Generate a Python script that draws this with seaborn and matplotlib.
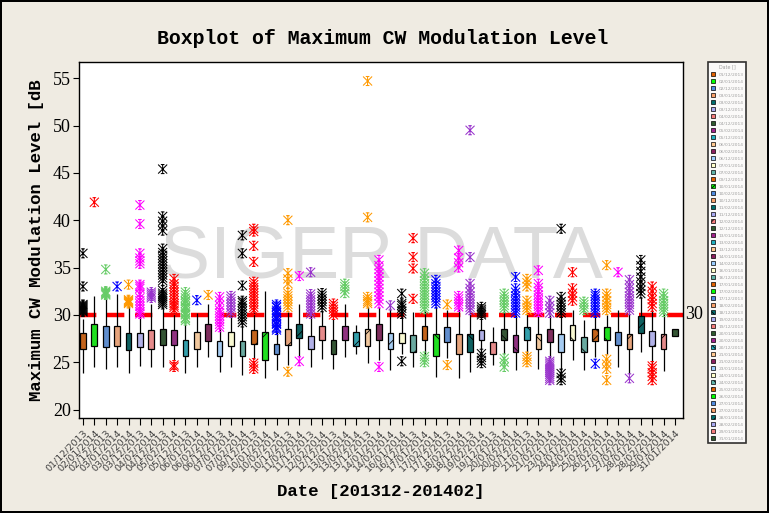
import numpy as np
import pandas as pd
import matplotlib
matplotlib.use("Agg")
import matplotlib.pyplot as plt
import seaborn as sns
from matplotlib.path import Path
from matplotlib.patches import Patch

dates = ["01/12/2013", "02/01/2014", "02/12/2013", "03/01/2014", "03/02/2014", "03/12/2013",
         "04/02/2014", "04/12/2013", "05/02/2014", "05/12/2013", "06/01/2014", "06/02/2014",
         "06/12/2013", "07/01/2014", "07/02/2014", "09/12/2013", "10/01/2014", "10/02/2014",
         "10/12/2013", "11/02/2014", "11/12/2013", "12/02/2014", "12/12/2013", "13/01/2014",
         "13/02/2014", "13/12/2013", "14/01/2014", "14/02/2014", "16/01/2014", "16/12/2013",
         "17/01/2014", "17/02/2014", "17/12/2013", "18/02/2014", "18/12/2013", "19/02/2014",
         "19/12/2013", "20/01/2014", "20/02/2014", "20/12/2013", "21/01/2014", "21/02/2014",
         "23/01/2014", "24/01/2014", "24/02/2014", "25/02/2014", "26/02/2014", "27/01/2014",
         "27/02/2014", "28/01/2014", "28/02/2014", "29/01/2014", "31/01/2014"]

# box statistics (dB)
w_low = [23.9, 24.5, 24.3, 24.5, 23.9, 24.65, 24.5, 24.5, 25.2, 23.9, 24.5, 25.5, 24.0, 24.5,
         23.6, 25.3, 23.3, 24.2, 24.7, 25.5, 24.5, 25.35, 24.3, 25.6, 25.9, 24.9, 25.2, 24.15,
         25.9, 24.5, 25.7, 23.45, 25.4, 23.3, 24.0, 26.1, 24.7, 25.9, 24.15, 25.7, 24.3, 25.4,
         24.0, 25.2, 24.15, 25.6, 25.9, 24.5, 23.8, 26.1, 24.7, 24.1, 27.8]
q1 = [26.35, 26.75, 26.6, 26.75, 26.3, 26.6, 26.45, 26.85, 26.85, 25.7, 26.45, 27.25, 25.7, 26.75,
      25.7, 26.95, 25.2, 25.9, 26.85, 27.6, 26.35, 27.3, 25.9, 27.3, 26.75, 26.75, 27.3, 26.45,
      27.0, 26.1, 27.4, 25.7, 27.15, 25.9, 26.1, 27.4, 25.9, 27.4, 26.1, 27.4, 26.4, 27.15,
      26.1, 27.3, 26.1, 27.25, 27.4, 26.8, 26.35, 28.1, 26.7, 26.35, 27.8]
med = [27.25, 27.8, 27.75, 27.85, 27.2, 27.25, 27.3, 27.85, 27.6, 26.5, 27.6, 28.1, 26.6, 27.6,
       26.2, 28.1, 26.9, 26.45, 27.85, 28.3, 27.0, 28.2, 26.6, 28.2, 27.7, 27.7, 28.0, 27.3,
       27.5, 27.0, 28.2, 27.0, 27.85, 27.15, 27.15, 27.95, 26.55, 28.0, 27.0, 28.0, 27.15, 27.85,
       27.05, 28.1, 27.0, 27.95, 28.0, 27.3, 27.15, 29.1, 27.5, 27.15, 28.2]
q3 = [28.05, 29.0, 28.8, 28.8, 28.1, 28.05, 28.45, 28.55, 28.45, 27.3, 28.2, 29.0, 27.2, 28.2,
      27.2, 28.45, 28.2, 26.95, 28.55, 29.0, 27.75, 28.8, 27.4, 28.8, 28.2, 28.55, 29.0, 28.1,
      28.1, 27.85, 28.8, 28.0, 28.7, 28.0, 28.0, 28.45, 27.15, 28.55, 27.85, 28.7, 28.0, 28.55,
      28.0, 28.9, 27.7, 28.55, 28.7, 28.2, 28.0, 29.85, 28.25, 28.0, 28.55]
w_high = [29.6, 32.0, 31.9, 32.2, 30.9, 29.9, 31.1, 30.8, 30.2, 29.2, 30.2, 31.1, 28.5, 30.0,
          29.0, 30.3, 32.5, 28.2, 30.3, 31.1, 29.9, 30.5, 29.7, 31.2, 28.9, 30.85, 30.8, 30.8,
          29.9, 30.3, 30.4, 30.9, 30.5, 30.6, 30.3, 29.8, 28.7, 30.5, 30.0, 30.1, 30.1, 30.0,
          30.0, 30.5, 29.5, 30.0, 30.0, 30.5, 30.2, 31.9, 30.6, 30.1, 28.55]

outliers = [
    [30.3, 30.4, 30.5, 30.6, 30.7, 30.8, 30.9, 31.0, 31.1, 33.0, 36.5],
    [41.9],
    [32.1, 32.2, 32.3, 32.4, 32.5, 34.8],
    [33.0],
    [31.2, 31.3, 31.4, 31.5, 31.6, 33.2],
    [30.1, 30.3, 30.6, 30.9, 31.2, 31.5, 31.8, 32.2, 32.8, 33.0, 33.2, 35.4, 35.7, 36.0, 36.5, 39.6, 41.6],
    [31.8, 32.0, 32.2, 32.4],
    [31.1, 31.3, 31.5, 31.7, 31.9, 32.1, 32.3, 32.6, 33.6, 33.9, 34.2, 34.5, 34.8, 35.1, 35.4,
     35.7, 36.0, 36.3, 36.6, 37.0, 38.9, 39.4, 39.9, 40.4, 45.4],
    [30.5, 30.8, 31.0, 31.2, 31.5, 31.8, 32.1, 32.4, 32.7, 33.0, 33.3, 33.8, 24.7, 24.5],
    [29.4, 29.6, 29.7, 30.0, 30.1, 30.3, 30.6, 30.8, 30.9, 31.2, 31.4, 31.5, 31.8, 32.1, 32.4],
    [31.55],
    [32.1],
    [28.7, 29.0, 29.3, 29.6, 29.9, 30.2, 30.5, 31.0, 31.5, 31.9],
    [30.2, 30.5, 30.8, 31.1, 31.4, 31.7, 32.0],
    [29.2, 29.5, 29.8, 30.1, 30.4, 30.7, 31.0, 31.3, 31.5, 33.1, 36.5, 38.4],
    [30.5, 30.8, 31.1, 31.4, 31.7, 32.0, 32.3, 32.6, 32.9, 33.2, 33.5, 35.6, 37.3, 38.8, 39.1,
     24.9, 24.6, 24.3],
    [],
    [28.4, 28.6, 28.7, 29.0, 29.1, 29.3, 29.6, 29.7, 29.9, 30.2, 30.3, 30.5, 30.8, 30.9, 31.1],
    [30.8, 31.1, 31.4, 31.7, 32.0, 32.3, 33.3, 33.8, 34.4, 40.0, 24.0],
    [34.1, 25.1],
    [30.1, 30.4, 30.7, 31.0, 31.3, 31.6, 31.9, 32.2, 34.5],
    [30.8, 31.1, 31.4, 31.7, 32.0, 32.3],
    [30.0, 30.3, 30.6, 30.9, 31.2],
    [32.3, 32.7, 33.0, 33.3],
    [],
    [31.2, 31.4, 31.6, 31.9, 40.3, 54.7],
    [31.2, 31.6, 32.0, 32.4, 32.8, 33.2, 33.6, 34.0, 34.4, 34.8, 35.2, 35.8, 24.5],
    [31.0],
    [30.1, 30.4, 30.7, 31.0, 31.2, 32.25, 25.1],
    [31.7, 34.9, 36.1, 38.1],
    [30.6, 30.9, 31.2, 31.5, 31.8, 32.1, 32.4, 32.7, 33.0, 33.3, 33.6, 34.0, 34.4, 25.0, 25.3, 25.6],
    [31.2, 31.5, 31.8, 32.1, 32.4, 32.7, 33.0, 33.3, 33.7],
    [31.1, 24.7],
    [30.85, 31.1, 31.4, 31.7, 32.0, 35.0, 35.5, 36.0, 36.8],
    [30.5, 30.8, 31.1, 31.4, 31.7, 32.0, 32.4, 32.8, 33.3, 36.1, 49.5],
    [30.0, 30.2, 30.4, 30.6, 30.85, 24.9, 25.2, 25.5, 25.9],
    [],
    [30.7, 31.0, 31.3, 31.6, 31.9, 32.25, 24.5, 25.0, 25.4],
    [30.2, 30.5, 30.8, 31.1, 31.4, 31.7, 32.0, 32.4, 32.8, 34.0],
    [30.5, 30.8, 31.1, 31.5, 33.0, 33.4, 33.8, 25.0, 25.3, 25.6],
    [30.3, 30.6, 30.9, 31.2, 31.5, 31.8, 32.1, 32.5, 32.9, 33.3, 34.7],
    [30.2, 30.6, 31.0, 31.5, 23.1, 23.3, 23.5, 23.7, 23.9, 24.1, 24.3, 24.5, 24.7, 24.9, 25.1],
    [30.2, 30.5, 30.8, 31.1, 31.4, 31.9, 39.1, 23.1, 23.4, 23.8],
    [31.5, 31.9, 32.3, 32.8, 34.5],
    [30.5, 30.8, 31.1, 31.4],
    [30.2, 30.5, 30.8, 31.1, 31.4, 31.7, 32.0, 32.25, 24.85],
    [30.5, 30.8, 31.1, 31.5, 31.9, 32.25, 35.25, 25.3, 24.8, 24.3, 23.1],
    [34.5],
    [30.5, 30.8, 31.1, 31.4, 31.7, 32.0, 32.4, 32.8, 33.2, 33.7, 23.3],
    [32.25, 32.6, 33.0, 33.5, 34.0, 34.6, 35.2, 35.8],
    [30.85, 31.2, 31.6, 32.0, 32.5, 33.0, 23.1, 23.5, 23.9, 24.3, 24.6],
    [30.3, 30.6, 30.9, 31.2, 31.5, 31.9, 32.25],
    [],
]

ref_level = 30

box_colors = ["#E06000", "#00FF00", "#4F8BE0", "#F8A06A", "#006E6E", "#A8A8F0", "#F47C7C",
              "#2E5A2E", "#A0228C", "#20B0C0", "#FFC890", "#8B2060", "#99CCFF", "#FFFFCC", "#5FB3A8"]
star_colors = ["black", "#FF0000", "#66CC66", "#0000FF", "#FF9900", "#FF00FF", "#9933CC"]

n = len(dates)
box_pal = [box_colors[i % 15] for i in range(n)]
star_pal = [star_colors[i % 7] for i in range(n)]
hatches = [None] * 15 + ["/"] * 15 + ["\\"] * 15 + ["x"] * (n - 45)

# 7 values per day give exact quartiles; whiskers drawn to min / max
rows = []
for i, d in enumerate(dates):
    for v in [w_low[i], q1[i], q1[i], med[i], q3[i], q3[i], w_high[i]]:
        rows.append((d, v))
box_df = pd.DataFrame(rows, columns=["Date", "Level"])
out_df = pd.DataFrame([(d, v) for d, vals in zip(dates, outliers) for v in vals],
                      columns=["Date", "Level"])

# SAS style star symbol
star = Path([(-1, -1), (1, 1), (-1, 1), (1, -1), (0, -1), (0, 1),
             (-0.4, 1), (0.4, 1), (-0.4, -1), (0.4, -1)],
            [Path.MOVETO, Path.LINETO] * 5)

plt.rcParams["hatch.linewidth"] = 0.6
fig = plt.figure(figsize=(7.69, 5.13), dpi=100, facecolor="#EFEBE2")
fig.patch.set_edgecolor("black")
fig.patch.set_linewidth(1.5)
ax = fig.add_axes([0.1027, 0.185, 0.7854, 0.694])
ax.set_facecolor("white")

ax.text(0.5, 0.396, "SIGER DATA", transform=ax.transAxes, fontsize=54, color="#DCDCDC",
        ha="center", va="baseline", family="Liberation Sans", zorder=0)

ax.axhline(ref_level, color="#FF0000", lw=3.2, ls=(0, (3.9, 2.4)), zorder=1)

sns.boxplot(data=box_df, x="Date", y="Level", hue="Date", order=dates, hue_order=dates,
            palette=box_pal, width=0.5, whis=(0, 100), showfliers=False, showcaps=False,
            linecolor="black", linewidth=0.9, legend=False, ax=ax,
            medianprops={"color": "black", "linewidth": 0.8})
for p, h in zip(ax.patches, hatches):
    p.set_zorder(3)
    if h:
        p.set_hatch(h)

n_before = len(ax.collections)
sns.stripplot(data=out_df, x="Date", y="Level", hue="Date", order=dates, hue_order=dates,
              palette=star_pal, jitter=False, marker=star, size=6.5, linewidth=0.75,
              legend=False, ax=ax, zorder=4)
for coll in ax.collections[n_before:]:
    coll.set_edgecolor(coll.get_facecolor())
    coll.set_facecolor("none")

ax.set_xlim(-0.35, 52.7)
ax.set_ylim(19.1, 56.7)
ax.set_yticks(range(20, 56, 5))
ax.tick_params(axis="y", length=4, width=0.8, labelsize=13, pad=2)
ax.tick_params(axis="x", length=5, width=0.8, labelsize=6.8, pad=2)
for lab in ax.get_yticklabels():
    lab.set_family("Liberation Serif")
ax.set_xticks(range(n))
ax.set_xticklabels(dates, rotation=45, ha="right", rotation_mode="anchor", color="#404040")
for s in ax.spines.values():
    s.set_color("black")
    s.set_linewidth(1.0)

ax.text(1.004, ref_level, str(ref_level), transform=ax.get_yaxis_transform(), fontsize=13,
        family="Liberation Serif", va="center", ha="left")

mono = {"family": "Liberation Mono", "weight": "bold"}
ax.set_xlabel("Date [201312-201402]", fontsize=12.5, labelpad=8, **mono)
ax.set_ylabel("Maximum CW Modulation Level [dB", fontsize=12.5, labelpad=6, **mono)
fig.text(0.497, 0.925, "Boxplot of Maximum CW Modulation Level", ha="center", va="center",
         fontsize=14.3, **mono)

handles = [Patch(facecolor=box_pal[i], edgecolor="black", hatch=hatches[i], lw=0.5)
           for i in range(n)]
leg = fig.legend(handles, dates, loc="upper left", bbox_to_anchor=(708 / 769, 1 - 62 / 513),
                 fontsize=3.2, title="Date []", title_fontsize=3.4, frameon=True,
                 fancybox=False, borderpad=0.6, labelspacing=0.56, handlelength=1.0,
                 handleheight=1.0, handletextpad=0.8, borderaxespad=0)
leg.get_frame().set_edgecolor("black")
leg.get_frame().set_linewidth(1.2)
for t in leg.get_texts():
    t.set_color("#A0A0A0")
leg.get_title().set_color("#A0A0A0")

fig.savefig("out.png", dpi=100, facecolor=fig.get_facecolor(), edgecolor="black")
